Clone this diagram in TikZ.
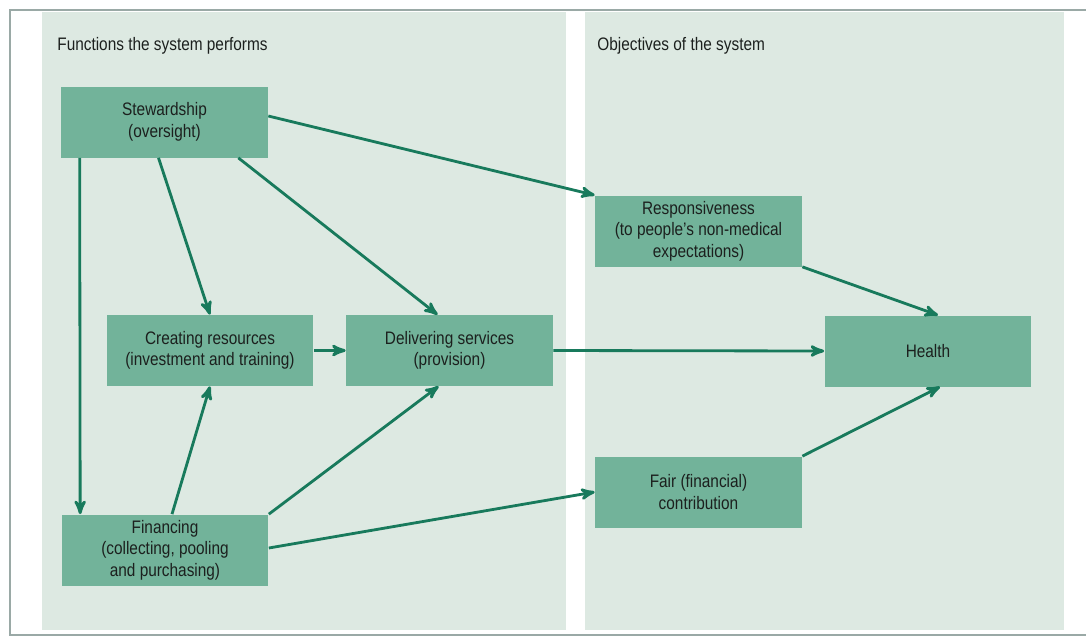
\documentclass[tikz,border=0pt]{standalone}
\usepackage{fontspec}
\setmainfont{Liberation Sans}[FakeStretch=0.85]
\usepackage{tikz}
\usetikzlibrary{arrows,calc,positioning}
\definecolor{P}{RGB}{221,233,226}
\definecolor{B}{RGB}{114,179,154}
\definecolor{L}{RGB}{24,122,92}
\definecolor{T}{RGB}{28,32,30}
\definecolor{F}{RGB}{154,169,166}
\tikzstyle{func} = [rectangle,
minimum width=4.14cm,
minimum height=1.42cm,
inner sep=0pt,
align=center,
text=T,
fill=B,
font=\fontsize{10.3}{12.2}\selectfont]
\tikzstyle{heading} = [anchor=base west, inner sep=0pt, text=T, font=\fontsize{10.3}{12.2}\selectfont]
\tikzstyle{arrow} = [->, line width=1.6pt, draw=L]

\begin{document}
\begin{tikzpicture}[
    >=stealth',
    x=0.02cm, y=-0.02cm, % one unit is one pixel of the picture
  ]
    \useasboundingbox (0,0) rectangle (1086,637);
    \fill[white] (0,0) rectangle (1086,637);

    % the two panels and the frame
    \fill[P] (42,12) rectangle (566,630);
    \fill[P] (585,12) rectangle (1064,630);
    \draw[F, line width=0.8pt] (1086,10) -- (10,10) -- (10,635) -- (1086,635);

    \node[heading] (left)  at (57,50)  {Functions the system performs};
    \node[heading] (right) at (597,50) {Objectives of the system};

    \node[func] (stew) at (164.5,122) {Stewardship\\(oversight)};
    \node[func] (cr)   at (210,350.5) {Creating resources\\(investment and training)};
    \node[func] (del)  at (449.5,350.5) {Delivering services\\(provision)};
    \node[func] (fin)  at (165,550)   {Financing\\(collecting, pooling\\and purchasing)};

    \node[func] (resp)   at (698.5,231) {Responsiveness\\(to people's non-medical\\expectations)};
    \node[func] (fair)   at (698.5,492) {Fair (financial)\\contribution};
    \node[func] (health) at (928,351)   {Health};

    \draw [arrow] ($(stew.east)+(0,-6)$) -- (resp.north west);
    \draw [arrow] ($(stew.south west)+(19,0)$) -- ($(fin.north west)+(19,0)$);
    \draw [arrow] ($(stew.south)+(-6,0)$) -- (cr.north);
    \draw [arrow] ($(stew.south east)+(-30,0)$) -- ($(del.north)+(-12,0)$);

    \draw [arrow] (cr.east) -- (del.west);
    \draw [arrow] ($(fin.north)+(7,0)$) -- (cr.south);
    \draw [arrow] (fin.north east) -- ($(del.south)+(-11,0)$);
    \draw [arrow] ($(fin.east)+(0,-2)$) -- (fair.west);

    \draw [arrow] (del.east) -- (health.west);
    \draw [arrow] (resp.south east) -- ($(health.north)+(10,0)$);
    \draw [arrow] (fair.north east) -- ($(health.south)+(12,0)$);
  \end{tikzpicture}
\end{document}
